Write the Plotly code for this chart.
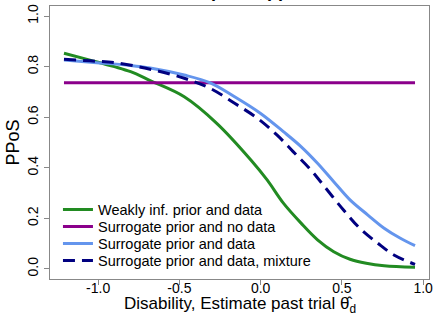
import plotly.graph_objects as go

# ---- data ----
x_weak = [-1.21, -1.05, -0.90, -0.80, -0.68, -0.47, -0.27, -0.06, 0.04, 0.14, 0.25, 0.35, 0.45, 0.55, 0.65, 0.76, 0.95]
y_weak = [0.853, 0.826, 0.800, 0.780, 0.745, 0.681, 0.576, 0.431, 0.352, 0.260, 0.180, 0.115, 0.068, 0.038, 0.022, 0.012, 0.006]

x_nodata = [-1.21, 0.95]
y_nodata = [0.736, 0.736]

x_surr = [-1.21, -0.99, -0.80, -0.68, -0.47, -0.31, -0.16, 0.00, 0.14, 0.25, 0.35, 0.45, 0.55, 0.66, 0.76, 0.86, 0.95]
y_surr = [0.826, 0.815, 0.805, 0.795, 0.767, 0.736, 0.681, 0.615, 0.543, 0.483, 0.418, 0.345, 0.273, 0.213, 0.161, 0.121, 0.092]

x_mix = [-1.21, -1.05, -0.89, -0.68, -0.47, -0.31, -0.16, -0.02, 0.10, 0.20, 0.31, 0.41, 0.51, 0.61, 0.72, 0.82, 0.95]
y_mix = [0.829, 0.823, 0.815, 0.790, 0.754, 0.714, 0.655, 0.596, 0.530, 0.464, 0.391, 0.312, 0.233, 0.161, 0.102, 0.055, 0.018]

names = ["Weakly inf. prior and data", "Surrogate prior and no data",
         "Surrogate prior and data", "Surrogate prior and data, mixture"]
colors = ["#228B22", "#8B008B", "#6495ED", "#000080"]

x_ticks = [-1.0, -0.5, 0.0, 0.5, 1.0]
x_ticktext = ["-1.0", "-0.5", "0.0", "0.5", "1.0"]
y_ticks = [0.0, 0.2, 0.4, 0.6, 0.8, 1.0]
y_ticktext = ["0.0", "0.2", "0.4", "0.6", "0.8", "1.0"]

x_title = "Disability, Estimate past trial \u03b8\u0302<sub>d</sub>"
y_title = "PPoS"
main_title = "Mixture prior approach"

FONT = "Liberation Sans, Arial, sans-serif"
W, H = 440, 323
ML, MR, MT, MB = 49.5, 11.3, 5.5, 44
PH = H - MT - MB

fig = go.Figure()
series = [(x_weak, y_weak, "solid", "spline"),
          (x_nodata, y_nodata, "solid", "linear"),
          (x_surr, y_surr, "solid", "spline"),
          (x_mix, y_mix, "12px,7px", "spline")]
legend_ids = ["legend", "legend2", "legend3", "legend4"]
for i, (xs, ys, dash, shape) in enumerate(series):
    fig.add_trace(go.Scatter(
        x=xs, y=ys, mode="lines", name=names[i], showlegend=True,
        line=dict(color=colors[i], width=3, dash=dash, shape=shape),
        legend=legend_ids[i]))

legend_y_px = [209.5, 226.5, 243.5, 260.5]
leg = {}
for i, lid in enumerate(legend_ids):
    leg[lid] = dict(
        x=0.021, xanchor="left",
        y=(H - MB - legend_y_px[i]) / PH, yanchor="middle",
        bgcolor="rgba(0,0,0,0)", borderwidth=0,
        font=dict(family=FONT, size=14.5, color="black"),
        itemwidth=30, tracegroupgap=0)

axis_common = dict(showline=True, linecolor="#888888", linewidth=1, mirror=True,
                   ticks="outside", ticklen=5, tickcolor="#888888",
                   showgrid=False, zeroline=False,
                   tickfont=dict(family=FONT, size=14, color="black"))

fig.update_layout(
    width=W, height=H,
    margin=dict(l=ML, r=MR, t=MT, b=MB),
    plot_bgcolor="white", paper_bgcolor="white",
    showlegend=True,
    xaxis=dict(range=[-1.296, 1.036], tickvals=x_ticks, ticktext=x_ticktext,
               ticklabelstandoff=-9, **axis_common),
    yaxis=dict(range=[-0.04, 1.04], tickvals=y_ticks, ticktext=y_ticktext, tickangle=-90,
               title=dict(text=y_title, font=dict(family=FONT, size=18, color="black"), standoff=1),
               **axis_common),
    **leg,
    annotations=[
        dict(text="<b>" + main_title + "</b>", xref="paper", yref="paper",
             x=0.5, y=1, xanchor="center", yanchor="bottom", yshift=3,
             showarrow=False, font=dict(family=FONT, size=18, color="black")),
        dict(text=x_title, xref="paper", yref="paper",
             x=0.5, y=(H - MB - 305) / PH, xanchor="center", yanchor="middle",
             showarrow=False, font=dict(family=FONT, size=17, color="black")),
    ],
)

fig.write_html("out.html")
